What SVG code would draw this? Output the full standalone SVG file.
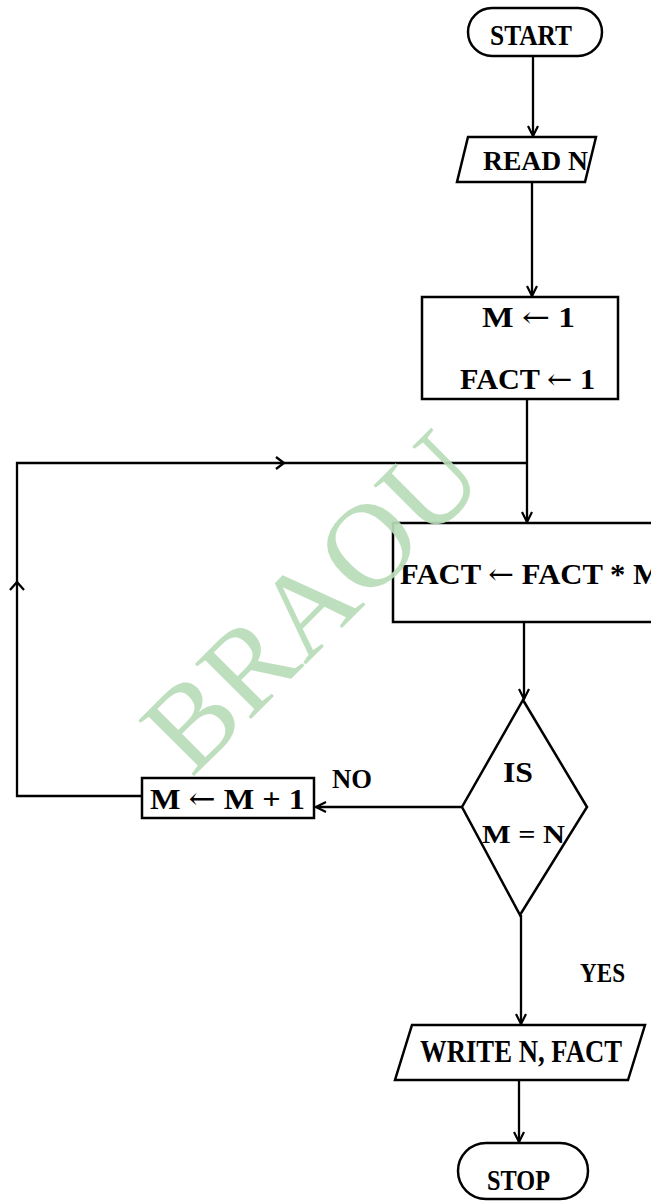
<svg xmlns="http://www.w3.org/2000/svg" width="651" height="1202" viewBox="0 0 651 1202">
<defs>
<style>
.s{fill:none;stroke:#000;stroke-width:2.5;stroke-linejoin:miter}
.b{fill:#fff;stroke:#000;stroke-width:2.5}
.c{fill:none;stroke:#000;stroke-width:2.3}
.t{font-family:"Liberation Serif","Times New Roman",serif;font-weight:bold;fill:#000}
.ar{font-family:"DejaVu Serif",serif;font-weight:normal}
.wm{font-family:"Liberation Serif","Times New Roman",serif;font-size:120px;fill:#b9dcb9;fill-opacity:0.92}
</style>
<marker id="ah" viewBox="0 0 12 12" refX="11" refY="6" markerWidth="12" markerHeight="12" markerUnits="userSpaceOnUse" orient="auto">
<path d="M1,1 L11,6 L1,11" fill="none" stroke="#000" stroke-width="2.2"/>
</marker>
</defs>
<rect width="651" height="1202" fill="#fff"/>
<g id="connectors">
<line class="c" x1="533" y1="56" x2="533" y2="136" marker-end="url(#ah)"/>
<line class="c" x1="532" y1="183" x2="532" y2="296" marker-end="url(#ah)"/>
<line class="c" x1="527" y1="399" x2="527" y2="522" marker-end="url(#ah)"/>
<polyline class="c" points="142,796 17,796 17,463 527,463"/>
<path class="c" d="M10,590 L17,582 L24,590"/>
<path class="c" d="M276,457 L284,463 L276,469"/>
<line class="c" x1="524" y1="622" x2="524" y2="699" marker-end="url(#ah)"/>
<line class="c" x1="462" y1="807" x2="316" y2="807" marker-end="url(#ah)"/>
<line class="c" x1="521" y1="915" x2="521" y2="1024" marker-end="url(#ah)"/>
<line class="c" x1="519" y1="1080" x2="519" y2="1142" marker-end="url(#ah)"/>
</g>
<g id="start">
<rect class="b" x="468" y="8" width="134" height="48" rx="24"/>
<text class="t" x="490" y="45" font-size="30" textLength="82" lengthAdjust="spacingAndGlyphs">START</text>
</g>
<g id="readN">
<polygon class="b" points="468,137 596,137 585,182 457,182"/>
<text class="t" x="483" y="170" font-size="27" textLength="105" lengthAdjust="spacingAndGlyphs">READ N</text>
</g>
<g id="init">
<rect class="b" x="422" y="297" width="196" height="102"/>
<text class="t" x="482" y="327" font-size="29" textLength="93" lengthAdjust="spacingAndGlyphs">M <tspan class="ar">←</tspan>  1</text>
<text class="t" x="460" y="389" font-size="29" textLength="135" lengthAdjust="spacingAndGlyphs">FACT <tspan class="ar">←</tspan> 1</text>
</g>
<g id="multiply">
<rect class="b" x="393" y="523" width="290" height="99"/>
<text class="t" x="400" y="584" font-size="29" textLength="262" lengthAdjust="spacingAndGlyphs">FACT <tspan class="ar">←</tspan> FACT * M</text>
</g>
<g id="decision">
<polygon class="b" points="523,700 587,807 520,915 462,807"/>
<text class="t" x="503" y="782" font-size="29" textLength="30" lengthAdjust="spacingAndGlyphs">IS</text>
<text class="t" x="482" y="843" font-size="25" textLength="83" lengthAdjust="spacingAndGlyphs">M = N</text>
</g>
<g id="increment">
<rect class="b" x="142" y="778" width="172" height="40"/>
<text class="t" x="150" y="809" font-size="30" textLength="155" lengthAdjust="spacingAndGlyphs">M <tspan class="ar">←</tspan>  M + 1</text>
</g>
<g id="labels">
<text class="t" x="332" y="788" font-size="28" textLength="40" lengthAdjust="spacingAndGlyphs">NO</text>
<text class="t" x="580" y="982" font-size="28" textLength="45" lengthAdjust="spacingAndGlyphs">YES</text>
</g>
<g id="write">
<polygon class="b" points="412,1025 645,1025 628,1080 395,1080"/>
<text class="t" x="420" y="1062" font-size="32" textLength="202" lengthAdjust="spacingAndGlyphs">WRITE N,  FACT</text>
</g>
<g id="stop">
<rect class="b" x="458" y="1143" width="130" height="56" rx="28"/>
<text class="t" x="487" y="1190" font-size="30" textLength="63" lengthAdjust="spacingAndGlyphs">STOP</text>
</g>
<text class="wm" x="0" y="0" text-anchor="middle" transform="translate(340,630) rotate(-45)">BRAOU</text>
</svg>
